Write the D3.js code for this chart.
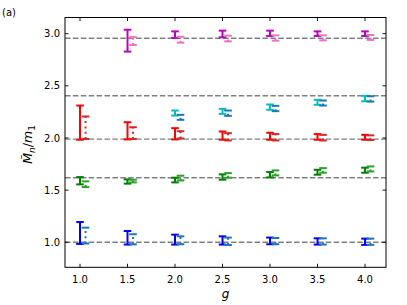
<!DOCTYPE html>
<html><head><meta charset="utf-8">
<script src="https://cdn.jsdelivr.net/npm/d3@7"></script>
<style>body{margin:0;background:#fff}svg{display:block}text{font-family:"DejaVu Sans",sans-serif}</style>
</head><body>
<script>
const gValues = [1.0, 1.5, 2.0, 2.5, 3.0, 3.5, 4.0];
const xTicks = [1.0, 1.5, 2.0, 2.5, 3.0, 3.5, 4.0];
const yTicks = [1.0, 1.5, 2.0, 2.5, 3.0];
const refLines = [1.0, 1.618, 1.989, 2.405, 2.956];

// [low, high] per g
const blueDark  = [[0.984,1.194],[0.978,1.108],[0.978,1.073],[0.978,1.057],[0.981,1.045],[0.978,1.038],[0.975,1.035]];
const blueLight = [[0.988,1.140],[0.980,1.077],[0.981,1.057],[0.974,1.045],[0.981,1.041],[0.978,1.038],[0.975,1.035]];
const greenDark  = [[1.555,1.625],[1.562,1.603],[1.574,1.619],[1.600,1.651],[1.622,1.673],[1.648,1.695],[1.667,1.715]];
const greenLight = [[1.529,1.584],[1.574,1.600],[1.593,1.638],[1.619,1.663],[1.641,1.689],[1.667,1.711],[1.679,1.727]];
const redDark  = [[1.983,2.311],[1.986,2.151],[1.986,2.094],[1.983,2.062],[1.983,2.050],[1.983,2.037],[1.983,2.030]];
const redLight = [[1.990,2.206],[1.990,2.103],[1.995,2.065],[1.976,2.046],[1.976,2.037],[1.976,2.030],[1.980,2.025]];
const cyanDark  = [null,null,[2.215,2.263],[2.231,2.279],[2.270,2.321],[2.318,2.366],[2.352,2.404]];
const cyanLight = [null,null,[2.174,2.222],[2.212,2.263],[2.257,2.308],[2.311,2.359],[2.349,2.400]];
const magDark  = [null,[2.828,3.038],[2.959,3.022],[2.965,3.029],[2.978,3.029],[2.978,3.022],[2.978,3.022]];
const magLight = [null,[2.892,2.967],[2.914,2.971],[2.926,2.981],[2.933,2.984],[2.936,2.984],[2.940,2.987]];

const series = [
  {d: blueDark, c: "#0000ff", light: false},
  {d: blueLight, c: "#1f77b4", light: true},
  {d: greenDark, c: "#008000", light: false},
  {d: greenLight, c: "#2ca02c", light: true},
  {d: redDark, c: "#ff0000", light: false},
  {d: redLight, c: "#d62728", light: true},
  {d: cyanDark, c: "#00bfbf", light: false},
  {d: cyanLight, c: "#1f77b4", light: true},
  {d: magDark, c: "#bf00bf", light: false},
  {d: magLight, c: "#e377c2", light: true}
];

const W = 407, H = 305;
const L = 65, R = 386, T = 17.5, B = 267.3;
const x = d3.scaleLinear().domain([0.842, 4.221]).range([L, R]);
const y = d3.scaleLinear().domain([0.760, 3.155]).range([B, T]);

const svg = d3.select("body").append("svg").attr("width", W).attr("height", H);

// reference lines
svg.append("g").selectAll("line").data(refLines).join("line")
  .attr("x1", L).attr("x2", R)
  .attr("y1", d => y(d)).attr("y2", d => y(d))
  .attr("stroke", "#808080").attr("stroke-width", 1.4)
  .attr("stroke-dasharray", "5.5,2.4");

// error bars
const cap = 3.8, off = 0.058;
series.forEach(s => {
  const g = svg.append("g");
  s.d.forEach((v, i) => {
    if (!v) return;
    const cx = x(gValues[i] + (s.light ? off : 0));
    g.append("line").attr("x1", cx).attr("x2", cx)
      .attr("y1", y(v[0])).attr("y2", y(v[1]))
      .attr("stroke", s.c).attr("stroke-width", 2)
      .attr("stroke-dasharray", s.light ? "2,3.3" : null);
    [v[0], v[1]].forEach(val => {
      g.append("line").attr("x1", cx - cap).attr("x2", cx + cap)
        .attr("y1", y(val)).attr("y2", y(val))
        .attr("stroke", s.c).attr("stroke-width", 2);
    });
  });
});

// frame
svg.append("rect").attr("x", L).attr("y", T).attr("width", R - L).attr("height", B - T)
  .attr("fill", "none").attr("stroke", "#000").attr("stroke-width", 1);

const tl = 3.5;
const tk = svg.append("g").attr("stroke", "#000").attr("stroke-width", 0.9);
xTicks.forEach(t => {
  tk.append("line").attr("x1", x(t)).attr("x2", x(t)).attr("y1", B).attr("y2", B - tl);
  tk.append("line").attr("x1", x(t)).attr("x2", x(t)).attr("y1", T).attr("y2", T + tl);
});
yTicks.forEach(t => {
  tk.append("line").attr("y1", y(t)).attr("y2", y(t)).attr("x1", L).attr("x2", L + tl);
  tk.append("line").attr("y1", y(t)).attr("y2", y(t)).attr("x1", R).attr("x2", R - tl);
});

svg.append("g").selectAll("text").data(xTicks).join("text")
  .attr("x", d => x(d)).attr("y", B + 15.5).attr("text-anchor", "middle")
  .attr("font-size", 10).text(d => d3.format(".1f")(d));
svg.append("g").selectAll("text").data(yTicks).join("text")
  .attr("x", L - 5).attr("y", d => y(d) + 3.6).attr("text-anchor", "end")
  .attr("font-size", 10).text(d => d3.format(".1f")(d));

// x label
svg.append("text").attr("x", (L + R) / 2).attr("y", B + 31).attr("text-anchor", "middle")
  .attr("font-family", "DejaVu Serif").attr("font-style", "italic").attr("font-size", 12).text("g");

// y label
const yl = svg.append("text").attr("transform", `translate(32,${(T + B) / 2 + 2}) rotate(-90)`)
  .attr("text-anchor", "middle").attr("font-family", "DejaVu Serif").attr("font-style", "italic").attr("font-size", 12.5);
yl.append("tspan").text("M\u0303");
yl.append("tspan").attr("font-size", 9).attr("dy", 2.8).text("n");
yl.append("tspan").attr("dy", -2.8).attr("font-style", "normal").text("/");
yl.append("tspan").text("m");
yl.append("tspan").attr("font-size", 9).attr("dy", 2.8).attr("font-style", "normal").text("1");

svg.append("text").attr("x", 2).attr("y", 16).attr("font-size", 10).text("(a)");
</script>
</body></html>
